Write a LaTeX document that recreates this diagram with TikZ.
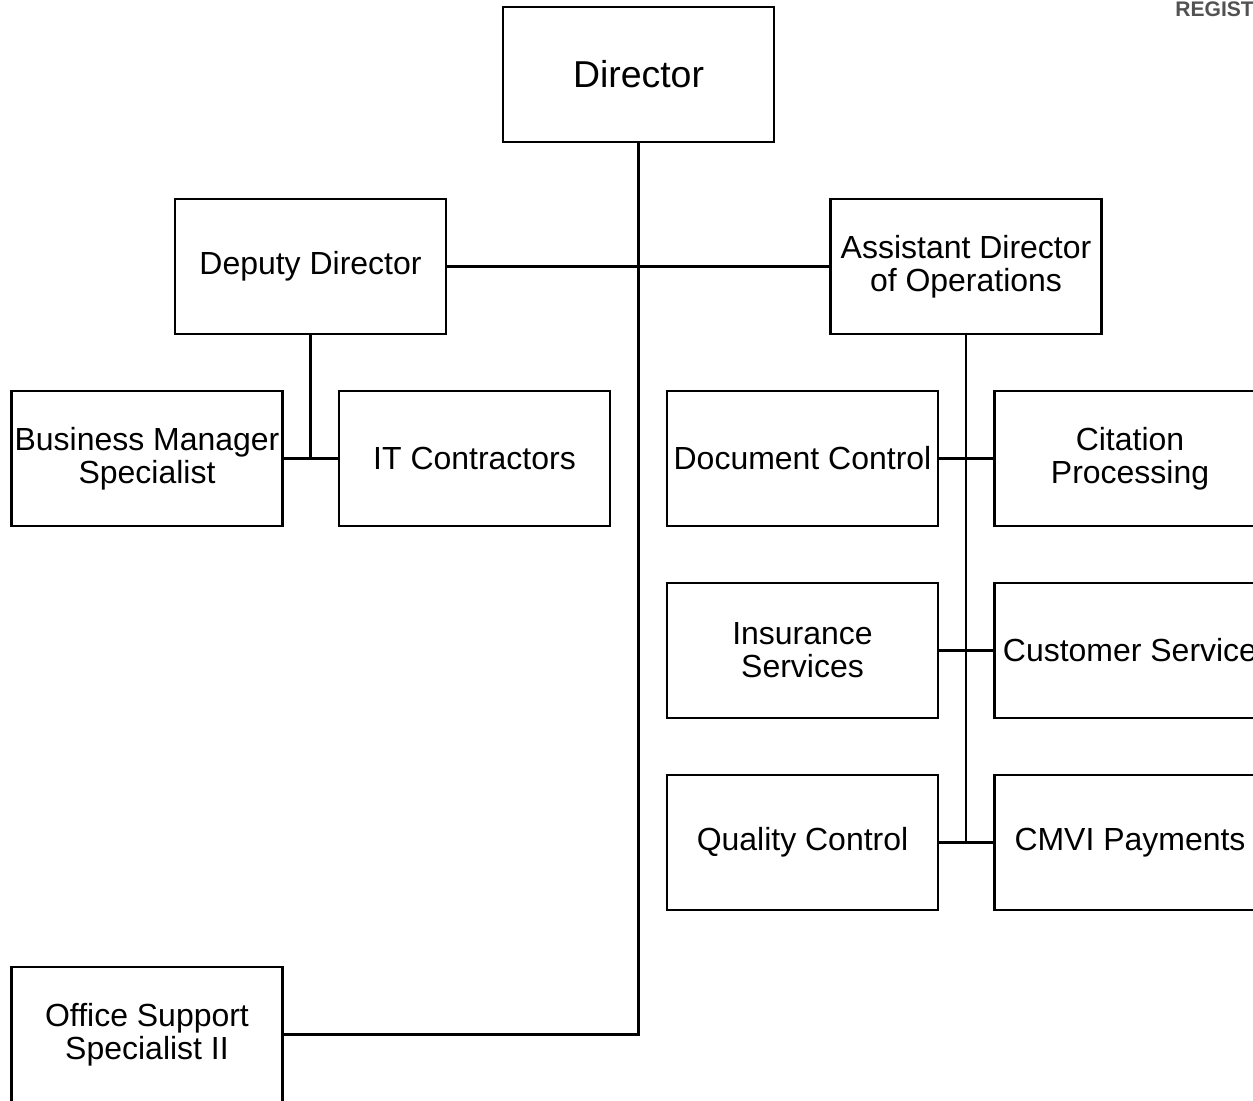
\documentclass[tikz,border=0pt]{standalone}
\usepackage{fontspec}
\setmainfont{Liberation Sans}
\usetikzlibrary{positioning}
\colorlet{penColor}{black}
\colorlet{stampColor}{black!68}
\tikzset{
  unit/.style={draw=penColor,line width=1.2pt,minimum width=5.42cm,minimum height=2.7cm,
    inner sep=1pt,align=center,font=\fontsize{18.2}{18.9}\selectfont},
  link/.style={draw=penColor,line width=1.2pt}
}

\begin{document}
\begin{tikzpicture}[x=0.02cm,y=-0.02cm]
      \path [use as bounding box,clip] (0,0) rectangle (1253,1101);
      \node [anchor=base west,inner sep=0pt,text=stampColor,font=\fontsize{12}{12}\selectfont\bfseries] (stamp) at (1175,16.7) {REGIST};
      \node [unit,font=\fontsize{21.3}{22}\selectfont] (director) at (638.5,74.5) {Director};
      \node [unit] (deputy) at (310.5,266.5) {Deputy Director};
      \node [unit] (assistant) at (966,266.5) {Assistant Director\\of Operations};
      \node [unit] (business) at (147,458.5) {Business Manager\\Specialist};
      \node [unit] (itcon) at (474.5,458.5) {IT Contractors};
      \node [unit] (doccontrol) at (802.5,458.5) {Document Control};
      \node [unit] (citation) at (1130,458.5) {Citation\\Processing};
      \node [unit] (insurance) at (802.5,650.5) {Insurance\\Services};
      \node [unit] (customer) at (1130,650.5) {Customer Service};
      \node [unit] (quality) at (802.5,842.5) {Quality Control};
      \node [unit] (cmvi) at (1130,842.5) {CMVI Payments};
      \node [unit] (office) at (147,1034.5) {Office Support\\Specialist II};
      % links
      \draw [link] (director.south) |- (office.east);
      \draw [link] (deputy.east) -- (assistant.west);
      \draw [link] (deputy.south) -- (deputy.south |- business.east);
      \draw [link] (business.east) -- (itcon.west);
      \draw [link] (assistant.south) -- (assistant.south |- quality.east);
      \draw [link] (doccontrol.east) -- (citation.west);
      \draw [link] (insurance.east) -- (customer.west);
      \draw [link] (quality.east) -- (cmvi.west);
    \end{tikzpicture}
\end{document}
